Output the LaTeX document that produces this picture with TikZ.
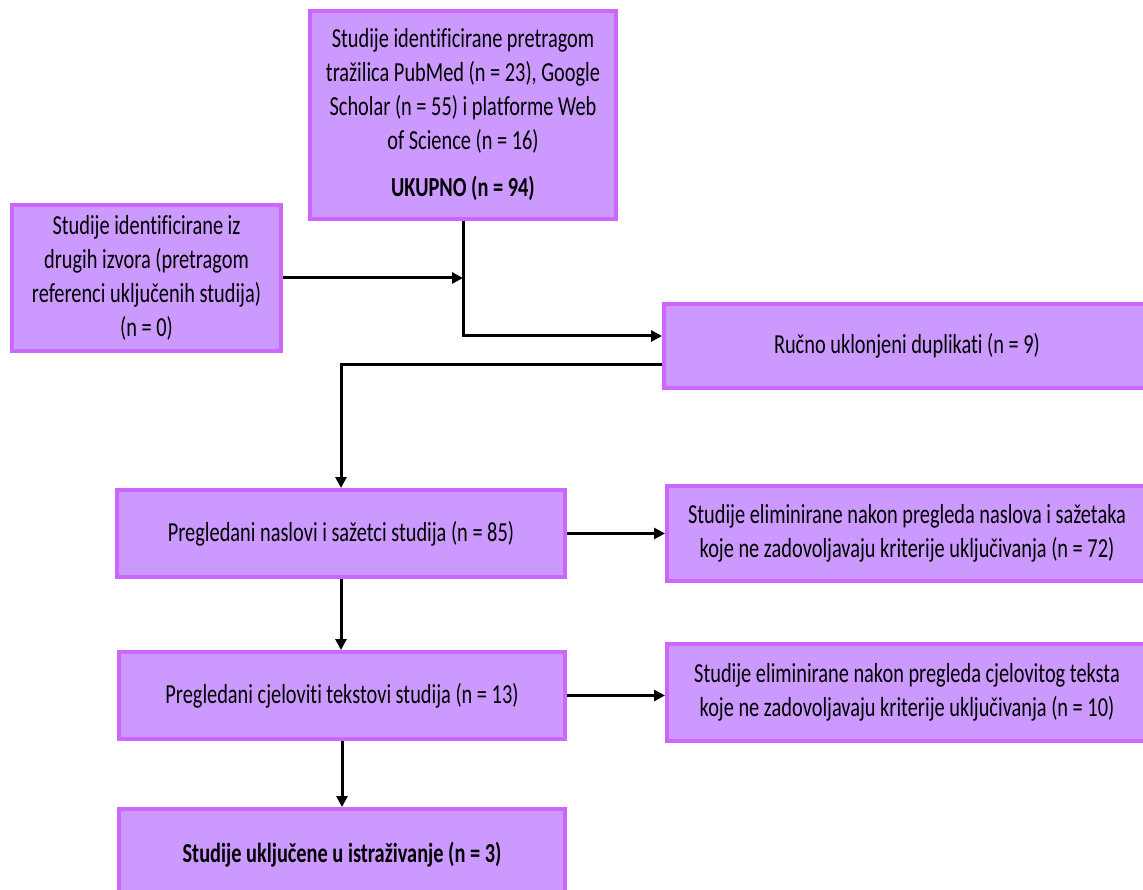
\documentclass[tikz,border=0pt]{standalone}
\usepackage{fontspec}
\setmainfont{Carlito}[FakeStretch=0.74, Ligatures=CommonOff]
\usetikzlibrary{arrows.meta}
\definecolor{boxfill}{HTML}{CC99FF}
\definecolor{boxline}{HTML}{CC66FF}
\tikzset{
  flowbox/.style={draw=boxline, fill=boxfill, line width=4pt, rectangle, align=center,
    inner sep=0pt, font=\fontsize{27.5}{34}\selectfont},
  arr/.style={line width=3pt, draw=black, -{Triangle[length=11pt,width=11pt]}}
}
\begin{document}
\begin{tikzpicture}[x=1pt,y=-1pt]
\useasboundingbox (0,0) rectangle (1143,890);
\clip (0,0) rectangle (1143,890);
\fill[white] (0,0) rectangle (1143,890);

\node[flowbox, minimum width=306pt, minimum height=208pt] (top) at (463,115)
  {Studije identificirane pretragom\\ tražilica PubMed (n = 23), Google\\ Scholar (n = 55) i platforme Web\\ of Science (n = 16)\\[13pt] \textbf{UKUPNO (n = 94)}};
\node[flowbox, minimum width=269pt, minimum height=146pt] (left) at (146.5,278)
  {Studije identificirane iz\\ drugih izvora (pretragom\\ referenci uključenih studija)\\ (n = 0)};
\node[flowbox, minimum width=486pt, minimum height=84pt] (dup) at (907,346)
  {Ručno uklonjeni duplikati (n = 9)};
\node[flowbox, minimum width=448pt, minimum height=87pt] (nas) at (341,533.5)
  {Pregledani naslovi i sažetci studija (n = 85)};
\node[flowbox, minimum width=480pt, minimum height=95pt] (el1) at (907,533.5)
  {Studije eliminirane nakon pregleda naslova i sažetaka\\ koje ne zadovoljavaju kriterije uključivanja (n = 72)};
\node[flowbox, minimum width=446pt, minimum height=87pt] (cje) at (342,695.5)
  {Pregledani cjeloviti tekstovi studija (n = 13)};
\node[flowbox, minimum width=480pt, minimum height=97pt] (el2) at (907,692.5)
  {Studije eliminirane nakon pregleda cjelovitog teksta\\ koje ne zadovoljavaju kriterije uključivanja (n = 10)};
\node[flowbox, minimum width=446pt, minimum height=92pt] (inc) at (342,855)
  {\textbf{Studije uključene u istraživanje (n = 3)}};

\coordinate (j1) at (463,336);
\coordinate (j2) at (341,365);

\draw[arr] (top.south) -- (j1) -- (j1 -| dup.west);
\draw[arr] (left.east) -- (left.east -| top.south);
\draw[arr] (j2 -| dup.west) -- (j2) -- (j2 |- nas.north);
\draw[arr] (nas.east) -- (nas.east -| el1.west);
\draw[arr] (nas.south) -- (nas.south |- cje.north);
\draw[arr] (cje.east) -- (cje.east -| el2.west);
\draw[arr] (cje.south) -- (cje.south |- inc.north);
\end{tikzpicture}
\end{document}
